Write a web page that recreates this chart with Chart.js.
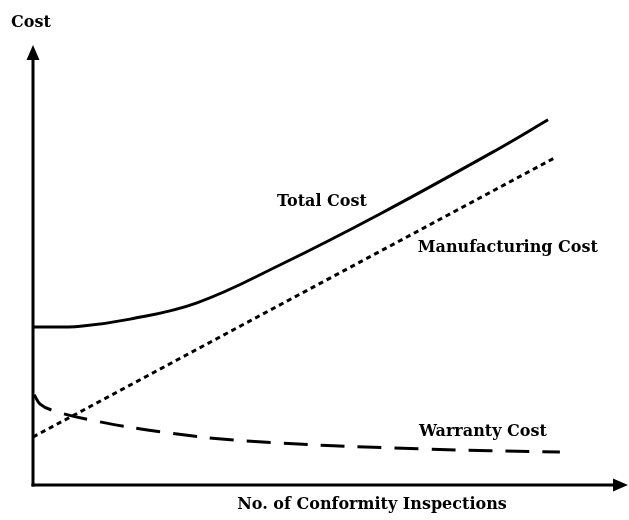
<!DOCTYPE html>
<html>
<head>
<meta charset="utf-8">
<script src="https://cdn.jsdelivr.net/npm/chart.js@4"></script>
<style>
  body { margin: 0; background: #fff; }
  #chart { display: block; }
</style>
</head>
<body>
<canvas id="chart" width="629" height="520"></canvas>
<script>
// values (x: inspections, y: cost, arbitrary units)
const totalX = [0, 0.8, 1.64, 2.77, 4.17, 5.86, 7.89, 8.70];
const totalY = [35.9, 36.1, 37.7, 41.4, 50.0, 61.6, 76.6, 83.0];

const mfgX = [0, 2, 4, 6, 8, 8.82];
const mfgY = [10.9, 25.3, 39.7, 54.1, 68.5, 74.4];

const warrantyX = [0.02, 0.12, 0.32, 0.96, 2.20, 3.61, 6.54, 8.90];
const warrantyY = [20.5, 18.4, 17.0, 14.8, 12.0, 10.0, 8.2, 7.5];

const seriesNames = ['Total Cost', 'Manufacturing Cost', 'Warranty Cost'];

function toPoints(xs, ys) {
    return xs.map((x, i) => ({x: x, y: ys[i]}));
}

const FONT = 'bold 16px "DejaVu Serif"';

// line labels, placed in data units
const lineLabels = [
    {text: seriesNames[0], x: 4.12, y: 64.3},
    {text: seriesNames[1], x: 6.5, y: 53.8},
    {text: seriesNames[2], x: 6.52, y: 12.0}
];

const axesPlugin = {
    id: 'axes',
    afterDraw(chart) {
        const ctx = chart.ctx;
        const area = chart.chartArea;
        const xs = chart.scales.x;
        const ys = chart.scales.y;
        const ox = area.left, oy = area.bottom;

        ctx.save();
        ctx.strokeStyle = '#000';
        ctx.fillStyle = '#000';
        ctx.lineWidth = 3;
        ctx.lineCap = 'butt';

        // y axis + arrow
        ctx.beginPath();
        ctx.moveTo(ox, oy + 1.5);
        ctx.lineTo(ox, area.top + 10);
        ctx.stroke();
        ctx.beginPath();
        ctx.moveTo(ox, area.top);
        ctx.lineTo(ox - 6.5, area.top + 15);
        ctx.lineTo(ox + 6.5, area.top + 15);
        ctx.closePath();
        ctx.fill();

        // x axis + arrow
        ctx.beginPath();
        ctx.moveTo(ox - 1.5, oy);
        ctx.lineTo(area.right - 10, oy);
        ctx.stroke();
        ctx.beginPath();
        ctx.moveTo(area.right + 3, oy);
        ctx.lineTo(area.right - 12, oy - 6.5);
        ctx.lineTo(area.right - 12, oy + 6.5);
        ctx.closePath();
        ctx.fill();

        ctx.font = FONT;
        ctx.textBaseline = 'middle';

        ctx.textAlign = 'left';
        ctx.fillText('Cost', 11, 23);

        ctx.textAlign = 'center';
        ctx.fillText('No. of Conformity Inspections', 372, 505);

        ctx.textAlign = 'left';
        lineLabels.forEach(l => {
            ctx.fillText(l.text, xs.getPixelForValue(l.x), ys.getPixelForValue(l.y));
        });
        ctx.restore();
    }
};

new Chart(document.getElementById('chart'), {
    type: 'scatter',
    data: {
        datasets: [
            {
                label: seriesNames[0],
                data: toPoints(totalX, totalY),
                showLine: true,
                borderColor: '#000',
                borderWidth: 3,
                pointRadius: 0,
                tension: 0.4
            },
            {
                label: seriesNames[1],
                data: toPoints(mfgX, mfgY),
                showLine: true,
                borderColor: '#000',
                borderWidth: 3,
                borderDash: [5, 4],
                pointRadius: 0
            },
            {
                label: seriesNames[2],
                data: toPoints(warrantyX, warrantyY),
                showLine: true,
                borderColor: '#000',
                borderWidth: 3,
                borderDash: [24, 13],
                pointRadius: 0,
                tension: 0.4
            }
        ]
    },
    options: {
        responsive: false,
        animation: false,
        layout: {padding: {left: 33, right: 4, top: 45, bottom: 35}},
        plugins: {
            legend: {display: false},
            tooltip: {enabled: false}
        },
        scales: {
            x: {type: 'linear', min: 0, max: 10, display: false},
            y: {type: 'linear', min: 0, max: 100, display: false}
        }
    },
    plugins: [axesPlugin]
});
</script>
</body>
</html>
